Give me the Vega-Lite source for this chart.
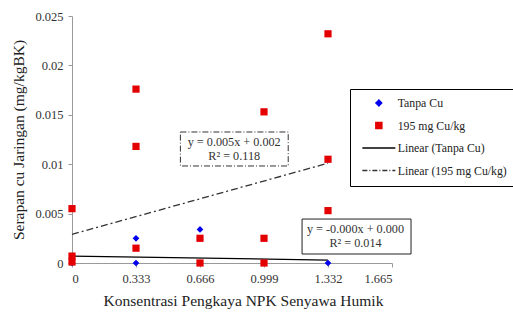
{
  "$schema": "https://vega.github.io/schema/vega-lite/v6.json",
  "width": 320,
  "height": 247,
  "autosize": {"type": "none"},
  "padding": {"left": 72, "top": 16, "right": 121, "bottom": 52},
  "background": "white",
  "config": {
    "view": {"stroke": null},
    "font": "Liberation Serif",
    "axis": {
      "grid": false,
      "labelFont": "Liberation Serif",
      "titleFont": "Liberation Serif",
      "labelFontSize": 12.5,
      "titleFontSize": 15.5,
      "titleFontWeight": "normal",
      "labelColor": "#333333",
      "titleColor": "#222222",
      "domainColor": "#9a9a9a",
      "tickColor": "#9a9a9a",
      "tickSize": 4
    },
    "legend": {
      "orient": "none",
      "legendX": 278,
      "legendY": 73,
      "strokeColor": "#000000",
      "fillColor": "white",
      "padding": 8,
      "labelFont": "Liberation Serif",
      "labelFontSize": 11.8,
      "labelColor": "#222222",
      "symbolSize": 100,
      "symbolStrokeWidth": 1.3,
      "labelOffset": 27.7,
      "rowPadding": 9.5,
      "title": null
    }
  },
  "datasets": {
    "tanpa": [
      {"series": "Tanpa Cu", "x": 0, "y": 0},
      {"series": "Tanpa Cu", "x": 0.333, "y": 0.0025},
      {"series": "Tanpa Cu", "x": 0.333, "y": 0},
      {"series": "Tanpa Cu", "x": 0.666, "y": 0.0034},
      {"series": "Tanpa Cu", "x": 0.666, "y": 0},
      {"series": "Tanpa Cu", "x": 0.999, "y": 0},
      {"series": "Tanpa Cu", "x": 1.332, "y": 0}
    ],
    "cu195": [
      {"series": "195 mg Cu/kg", "x": 0, "y": 0.0055},
      {"series": "195 mg Cu/kg", "x": 0, "y": 0.0007},
      {"series": "195 mg Cu/kg", "x": 0, "y": 0.0001},
      {"series": "195 mg Cu/kg", "x": 0.333, "y": 0.0176},
      {"series": "195 mg Cu/kg", "x": 0.333, "y": 0.0118},
      {"series": "195 mg Cu/kg", "x": 0.333, "y": 0.0015},
      {"series": "195 mg Cu/kg", "x": 0.666, "y": 0.0025},
      {"series": "195 mg Cu/kg", "x": 0.666, "y": 0},
      {"series": "195 mg Cu/kg", "x": 0.999, "y": 0.0153},
      {"series": "195 mg Cu/kg", "x": 0.999, "y": 0.0025},
      {"series": "195 mg Cu/kg", "x": 0.999, "y": 0},
      {"series": "195 mg Cu/kg", "x": 1.332, "y": 0.0232},
      {"series": "195 mg Cu/kg", "x": 1.332, "y": 0.0105},
      {"series": "195 mg Cu/kg", "x": 1.332, "y": 0.0053}
    ],
    "trendTanpa": [
      {"series": "Linear (Tanpa Cu)", "x": 0, "y": 0.0007},
      {"series": "Linear (Tanpa Cu)", "x": 1.332, "y": 0.0003}
    ],
    "trend195": [
      {"series": "Linear (195 mg Cu/kg)", "x": 0, "y": 0.0029},
      {"series": "Linear (195 mg Cu/kg)", "x": 1.332, "y": 0.0101}
    ],
    "legendItems": [
      {"series": "Tanpa Cu"},
      {"series": "195 mg Cu/kg"},
      {"series": "Linear (Tanpa Cu)"},
      {"series": "Linear (195 mg Cu/kg)"}
    ]
  },
  "encoding": {
    "x": {
      "field": "x",
      "type": "quantitative",
      "scale": {"domain": [0, 1.665], "nice": false},
      "axis": {
        "values": [0, 0.333, 0.666, 0.999, 1.332, 1.665],
        "format": ".3~f",
        "title": "Konsentrasi Pengkaya NPK Senyawa Humik",
        "titleX": 171,
        "labelPadding": 5,
        "titlePadding": 9
      }
    },
    "y": {
      "field": "y",
      "type": "quantitative",
      "scale": {"domain": [0, 0.025], "nice": false},
      "axis": {
        "values": [0, 0.005, 0.01, 0.015, 0.02, 0.025],
        "format": ".3~f",
        "title": "Serapan cu Jaringan (mg/kgBK)",
        "labelPadding": 5,
        "titlePadding": 8
      }
    }
  },
  "layer": [
    {
      "data": {"values": [{"x": 0.564, "x2": 1.125, "y": 0.00982, "y2": 0.01326}]},
      "mark": {"type": "rect", "fill": "white", "stroke": "#333333", "strokeWidth": 1, "strokeDash": [6, 2, 1, 2]},
      "encoding": {"x2": {"field": "x2"}, "y2": {"field": "y2"}}
    },
    {
      "data": {"values": [{"x": 1.197, "x2": 1.764, "y": 0.00091, "y2": 0.00445}]},
      "mark": {"type": "rect", "fill": "white", "stroke": "#222222", "strokeWidth": 1, "clip": false},
      "encoding": {"x2": {"field": "x2"}, "y2": {"field": "y2"}}
    },
    {
      "data": {"name": "trendTanpa"},
      "mark": {"type": "line", "strokeWidth": 1.3, "color": "#000000"},
      "encoding": {}
    },
    {
      "data": {"name": "trend195"},
      "mark": {"type": "line", "strokeWidth": 1.3, "color": "#333333", "strokeDash": [7, 3, 2, 3]},
      "encoding": {}
    },
    {
      "data": {"name": "tanpa"},
      "mark": {"type": "point", "filled": true, "opacity": 1, "size": 45, "shape": "diamond", "color": "#0000ee"},
      "encoding": {}
    },
    {
      "data": {"name": "cu195"},
      "mark": {"type": "point", "filled": true, "opacity": 1, "size": 52, "shape": "square", "color": "#e40000"},
      "encoding": {}
    },
    {
      "data": {"values": [
        {"x": 0.844, "y": 0.01222, "label": "y = 0.005x + 0.002"},
        {"x": 0.844, "y": 0.01086, "label": "R² = 0.118"},
        {"x": 1.475, "y": 0.00341, "label": "y = -0.000x + 0.000"},
        {"x": 1.475, "y": 0.00200, "label": "R² = 0.014"}
      ]},
      "mark": {"type": "text", "font": "Liberation Serif", "fontSize": 12.2, "color": "#333333", "align": "center", "baseline": "middle", "clip": false},
      "encoding": {"text": {"field": "label"}}
    },
    {
      "data": {"name": "legendItems"},
      "mark": {"type": "point", "filled": true, "opacity": 1},
      "encoding": {
        "color": {
          "field": "series",
          "type": "nominal",
          "scale": {
            "domain": ["Tanpa Cu", "195 mg Cu/kg", "Linear (Tanpa Cu)", "Linear (195 mg Cu/kg)"],
            "range": ["#0000ee", "#e40000", "#000000", "#333333"]
          }
        },
        "stroke": {
          "field": "series",
          "type": "nominal",
          "scale": {
            "domain": ["Tanpa Cu", "195 mg Cu/kg", "Linear (Tanpa Cu)", "Linear (195 mg Cu/kg)"],
            "range": ["#0000ee", "#e40000", "#000000", "#333333"]
          }
        },
        "shape": {
          "field": "series",
          "type": "nominal",
          "scale": {
            "domain": ["Tanpa Cu", "195 mg Cu/kg", "Linear (Tanpa Cu)", "Linear (195 mg Cu/kg)"],
            "range": ["M2.37,0L2.97,-0.6L3.57,0L2.97,0.6Z", "M2.35,-0.62H3.59V0.62H2.35Z", "M-0.33,0H6.27", "M-0.33,0H6.27"]
          }
        },
        "strokeDash": {
          "field": "series",
          "type": "nominal",
          "scale": {
            "domain": ["Tanpa Cu", "195 mg Cu/kg", "Linear (Tanpa Cu)", "Linear (195 mg Cu/kg)"],
            "range": [[1, 0], [1, 0], [1, 0], [5, 2, 1, 2]]
          }
        }
      }
    }
  ]
}
